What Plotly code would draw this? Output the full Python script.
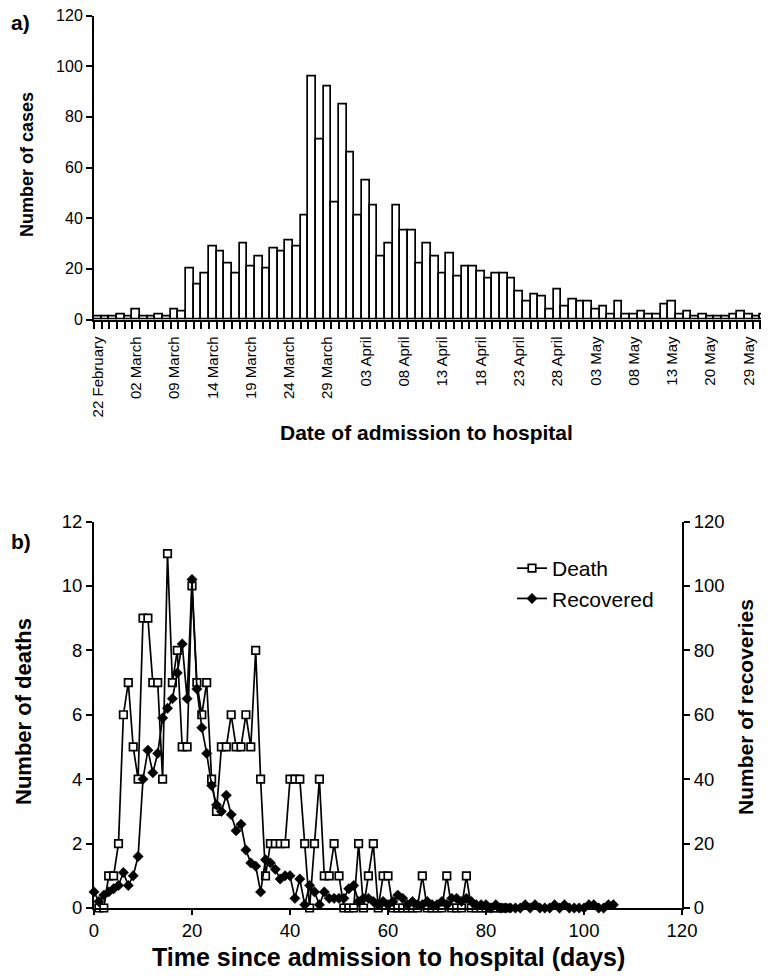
import plotly.graph_objects as go

# ---------------- Panel a data ----------------
cases = [1, 1, 1, 2, 1, 4, 1, 1, 2, 1,
         4, 3, 20, 14, 18, 29, 27, 22, 18, 30,
         21, 25, 20, 28, 27, 31, 29, 41, 96, 71,
         92, 46, 85, 66, 41, 55, 45, 25, 30, 45,
         35, 35, 22, 30, 25, 18, 26, 17, 21, 21,
         19, 16, 18, 18, 16, 11, 7, 10, 9, 4,
         12, 5, 8, 7, 7, 4, 5, 2, 7, 2,
         2, 3, 2, 2, 6, 7, 2, 3, 1, 2,
         1, 1, 1, 2, 3, 2, 1, 2]
date_labels = ["22 February", "02 March", "09 March", "14 March", "19 March",
               "24 March", "29 March", "03 April", "08 April", "13 April",
               "18 April", "23 April", "28 April", "03 May", "08 May",
               "13 May", "20 May", "29 May"]
label_every = 5

# ---------------- Panel b data ----------------
death_days = list(range(1, 85))
deaths = [0, 0, 1, 1, 2, 6, 7, 5, 4, 9,
          9, 7, 7, 4, 11, 7, 8, 5, 5, 10,
          7, 6, 7, 4, 3, 5, 5, 6, 5, 5,
          6, 5, 8, 4, 1, 2, 2, 2, 2, 4,
          4, 4, 2, 0, 2, 4, 1, 1, 2, 1,
          0, 0, 0, 2, 0, 1, 2, 0, 1, 1,
          0, 0, 0, 0, 0, 0, 1, 0, 0, 0,
          0, 1, 0, 0, 0, 1, 0, 0, 0, 0,
          0, 0, 0, 0]
rec_days = list(range(0, 107))
recovered = [5, 2, 4, 5, 6, 7, 11, 7, 10, 16,
             40, 49, 42, 48, 59, 62, 65, 73, 82, 65,
             102, 68, 56, 48, 38, 32, 30, 35, 29, 24,
             26, 18, 14, 13, 5, 15, 14, 12, 9, 10,
             10, 3, 9, 1, 7, 5, 1, 5, 3, 3,
             3, 3, 6, 7, 2, 3, 3, 2, 1, 2,
             1, 2, 4, 3, 1, 2, 1, 1, 2, 1,
             1, 2, 1, 3, 3, 2, 3, 2, 1, 1,
             1, 0, 1, 0, 0, 0, 0, 0, 1, 0,
             1, 0, 0, 0, 1, 0, 1, 0, 0, 0,
             0, 1, 1, 0, 0, 1, 1]

FONT = "Liberation Sans, Arial, sans-serif"
# page body has an 8px margin; figure sized to fit the 769x976 window
W, H = 761, 968
OFF = 8


def px(x):
    return (x - OFF) / W


def py(y):
    return (H - (y - OFF)) / H


fig = go.Figure()

bar_x = list(range(len(cases)))
fig.add_trace(go.Bar(
    x=bar_x, y=cases, xaxis="x", yaxis="y",
    marker=dict(color="white", line=dict(color="black", width=1.7)),
    width=1.0, showlegend=False, hoverinfo="skip"))

fig.add_trace(go.Scatter(
    x=death_days, y=deaths, xaxis="x2", yaxis="y2", name="Death",
    mode="lines+markers", cliponaxis=False,
    line=dict(color="black", width=1.7),
    marker=dict(symbol="square", size=7.5, color="white",
                line=dict(color="black", width=1.7))))

fig.add_trace(go.Scatter(
    x=rec_days, y=recovered, xaxis="x2", yaxis="y3", name="Recovered",
    mode="lines+markers", cliponaxis=False,
    line=dict(color="black", width=1.7),
    marker=dict(symbol="diamond", size=8, color="black",
                line=dict(color="black", width=0.5))))

tickfont_a = dict(family=FONT, size=16, color="black")
tickfont_b = dict(family=FONT, size=18.5, color="black")

common = dict(automargin=False, showgrid=False, zeroline=False,
              ticklabeloverflow="allow")

fig.update_layout(
    template="none",
    width=W, height=H, autosize=False,
    margin=dict(l=0, r=0, t=0, b=0, pad=0),
    paper_bgcolor="white", plot_bgcolor="white",
    bargap=0,
    font=dict(family=FONT, color="black"),
    xaxis=dict(
        domain=[px(94), px(768)], anchor="y",
        range=[-0.5, len(cases) - 0.5],
        tickmode="array",
        tickvals=[i * label_every for i in range(len(date_labels))],
        ticktext=date_labels, tickangle=-90,
        tickfont=dict(family=FONT, size=15, color="black"),
        ticks="outside", ticklen=9, tickcolor="rgba(0,0,0,0)",
        minor=dict(ticks="outside", tick0=-0.5, dtick=1, ticklen=7,
                   tickcolor="black", tickwidth=1.5),
        showline=True, linecolor="black", linewidth=2, **common,
    ),
    yaxis=dict(
        domain=[py(319.5), py(15.5)], anchor="x",
        range=[0, 120], dtick=20, tick0=0,
        ticks="outside", ticklen=6, tickwidth=1.5, tickcolor="black",
        tickfont=tickfont_a,
        showline=True, linecolor="black", linewidth=2, **common,
    ),
    xaxis2=dict(
        domain=[px(94), px(682)], anchor="y2",
        range=[0, 120], dtick=20, tick0=0,
        ticks="outside", ticklen=5, tickwidth=1.5, tickcolor="black",
        tickfont=tickfont_b,
        showline=True, linecolor="black", linewidth=2, **common,
    ),
    yaxis2=dict(
        domain=[py(908), py(521.5)], anchor="x2",
        range=[0, 12], dtick=2, tick0=0,
        ticks="outside", ticklen=6, tickwidth=1.5, tickcolor="black",
        tickfont=tickfont_b,
        showline=True, linecolor="black", linewidth=2, **common,
    ),
    yaxis3=dict(
        domain=[py(908), py(521.5)], anchor="x2", overlaying="y2", side="right",
        range=[0, 120], dtick=20, tick0=0,
        ticks="outside", ticklen=6, tickwidth=1.5, tickcolor="black",
        tickfont=tickfont_b,
        showline=True, linecolor="black", linewidth=2, **common,
    ),
    yaxis4=dict(
        domain=[py(908), py(521.5)], anchor="x2", overlaying="y2", side="right",
        range=[0, 120], dtick=20, tick0=0,
        ticks="inside", ticklen=6, tickwidth=1.5, tickcolor="black",
        showticklabels=False, showline=False, **common,
    ),
    legend=dict(
        x=px(512), y=py(548), xanchor="left", yanchor="top",
        bgcolor="rgba(0,0,0,0)", borderwidth=0,
        font=dict(family=FONT, size=21, color="black"),
        tracegroupgap=0,
    ),
    showlegend=True,
)

bold = lambda s: "<b>" + s + "</b>"
annotations = [
    dict(text=bold("a)"), x=px(9), y=py(22), xanchor="left", yanchor="middle",
         font=dict(family=FONT, size=21, color="black")),
    dict(text=bold("b)"), x=px(9), y=py(541), xanchor="left", yanchor="middle",
         font=dict(family=FONT, size=21, color="black")),
    dict(text=bold("Number of cases"), x=px(27), y=py(165), textangle=-90,
         xanchor="center", yanchor="middle",
         font=dict(family=FONT, size=18, color="black")),
    dict(text=bold("Date of admission to hospital"), x=px(427), y=py(432),
         xanchor="center", yanchor="middle",
         font=dict(family=FONT, size=21, color="black")),
    dict(text=bold("Number of deaths"), x=px(23), y=py(712), textangle=-90,
         xanchor="center", yanchor="middle",
         font=dict(family=FONT, size=22, color="black")),
    dict(text=bold("Number of recoveries"), x=px(745), y=py(707), textangle=-90,
         xanchor="center", yanchor="middle",
         font=dict(family=FONT, size=21, color="black")),
    dict(text=bold("Time since admission to hospital (days)"), x=px(388), y=py(957),
         xanchor="center", yanchor="middle",
         font=dict(family=FONT, size=25, color="black")),
]
for a in annotations:
    a.update(xref="paper", yref="paper", showarrow=False)
fig.update_layout(annotations=annotations)

fig.write_html("out.html")
